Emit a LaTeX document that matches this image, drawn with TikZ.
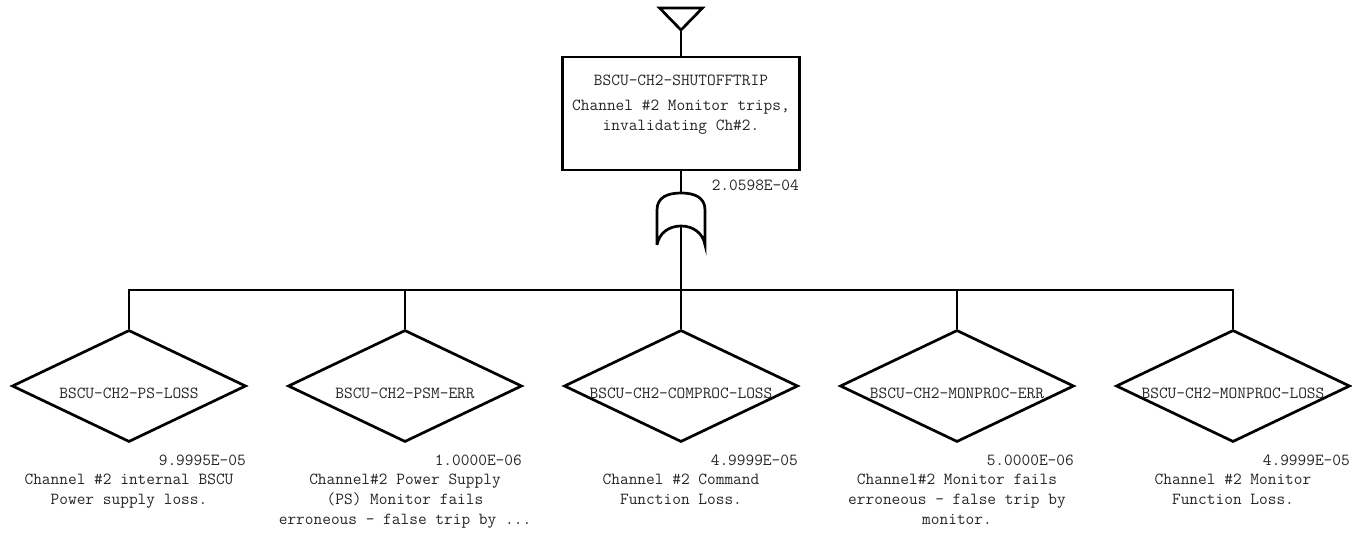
\documentclass[tikz,border=0pt]{standalone}
\usepackage{fontspec}
\usetikzlibrary{shapes.geometric}
\begin{document}
\begin{tikzpicture}[x=1pt,y=-1pt,
  ln/.style={line width=2.7pt, line join=miter},
  txt/.style={font=\ttfamily\fontsize{16.9}{19.8}\selectfont, text=black!85, inner sep=0pt, align=center},
  evt/.style={draw, ln, shape=diamond, minimum width=234pt, minimum height=112pt, inner sep=0pt},
  prob/.style={font=\ttfamily\fontsize{16.9}{19.8}\selectfont, text=black!85, inner sep=0pt, anchor=east}
]
\useasboundingbox (0,0) rectangle (1352,534);
% top transfer triangle
\coordinate (tA) at (659.5,8);
\coordinate (tB) at (702.5,8);
\coordinate (tC) at (681,30);
\draw[ln] (tA) -- (tB) -- (tC) -- cycle;
% top event box
\node[draw, ln, minimum width=237pt, minimum height=113pt, inner sep=0pt] (top) at (681,113.5) {};
\node[txt] (topid) at (681,80) {BSCU-CH2-SHUTOFFTRIP};
\node[txt] (topdesc) at (681,117) {Channel \#2 Monitor trips,\\invalidating Ch\#2.};
\draw[ln] (tC) -- (top.north);
\node[prob] (topp) at (799,185) {2.0598E-04};
% OR gate
\coordinate (gtop) at (681,193);
\coordinate (gbot) at (681,226);
\draw[ln] (657,245) -- (657,210) .. controls (657,197) and (668,193) .. (gtop)
  .. controls (694,193) and (705,197) .. (705,210) -- (705,245)
  .. controls (703,233) and (693,226) .. (gbot)
  .. controls (669,226) and (659,233) .. (657,245);
\draw[ln] (top.south) -- (gtop);
\coordinate (bus) at (681,290);
\draw[ln] (gbot) -- (bus);
% basic events
\foreach \i/\x/\id/\p/\d in {
  1/129/BSCU-CH2-PS-LOSS/9.9995E-05/{Channel \#2 internal BSCU\\Power supply loss.},
  2/405/BSCU-CH2-PSM-ERR/1.0000E-06/{Channel\#2 Power Supply\\(PS) Monitor fails\\erroneous - false trip by ...},
  3/681/BSCU-CH2-COMPROC-LOSS/4.9999E-05/{Channel \#2 Command\\Function Loss.},
  4/957/BSCU-CH2-MONPROC-ERR/5.0000E-06/{Channel\#2 Monitor fails\\erroneous - false trip by\\monitor.},
  5/1233/BSCU-CH2-MONPROC-LOSS/4.9999E-05/{Channel \#2 Monitor\\Function Loss.}}
{
  \node[evt] (d\i) at (\x,386) {};
  \node[txt] (id\i) at (\x,393) {\id};
  \node[prob] (p\i) at (\x+117,460) {\p};
  \node[txt, anchor=north] (desc\i) at (\x,474) {\d};
}
\draw[ln] (d1.north) |- (bus) -| (d5.north);
\foreach \i in {2,3,4} {\draw[ln] (d\i.north) -- (d\i.north |- bus);}
\end{tikzpicture}
\end{document}
